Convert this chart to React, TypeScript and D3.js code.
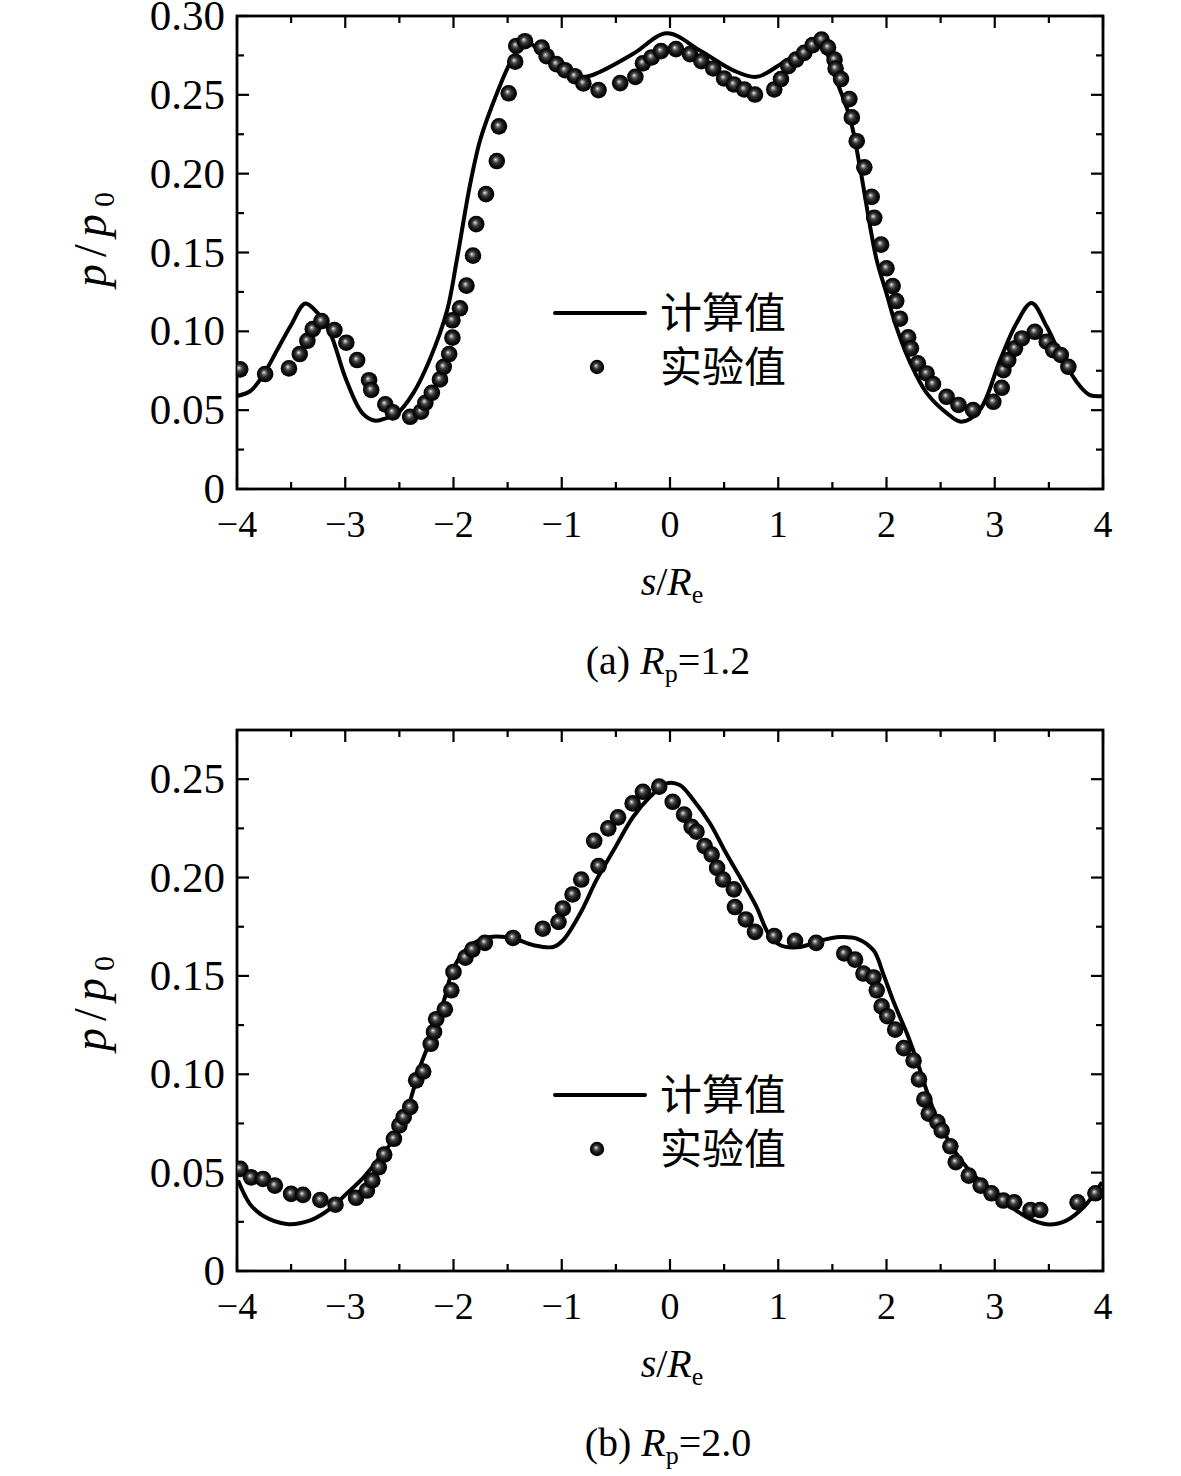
import React from "react";
import * as d3 from "d3";

// x positions s/Re shared by both panels
const xTicks = [-4, -3, -2, -1, 0, 1, 2, 3, 4];
const xTickLabels = ["−4", "−3", "−2", "−1", "0", "1", "2", "3", "4"];
const xMinor = [-3.5, -2.5, -1.5, -0.5, 0.5, 1.5, 2.5, 3.5];

const yTicksA = [0, 0.05, 0.1, 0.15, 0.2, 0.25, 0.3];
const yTickLabelsA = ["0", "0.05", "0.10", "0.15", "0.20", "0.25", "0.30"];
const yMinorA = [0.025, 0.075, 0.125, 0.175, 0.225, 0.275];

const yTicksB = [0, 0.05, 0.1, 0.15, 0.2, 0.25];
const yTickLabelsB = ["0", "0.05", "0.10", "0.15", "0.20", "0.25"];
const yMinorB = [0.025, 0.075, 0.125, 0.175, 0.225, 0.275];

const legendNames = ["计算值", "实验值"];

// (a) Rp = 1.2 : computed curve [s, p/p0]
const calcA: [number, number][] = [
  [-4.0, 0.059], [-3.88, 0.062], [-3.76, 0.072], [-3.63, 0.088], [-3.5, 0.104],
  [-3.37, 0.1177], [-3.26, 0.112], [-3.14, 0.099], [-2.99, 0.069], [-2.84, 0.048],
  [-2.72, 0.0433], [-2.62, 0.045], [-2.52, 0.048], [-2.37, 0.061], [-2.22, 0.082],
  [-2.06, 0.113], [-1.97, 0.145], [-1.85, 0.192], [-1.755, 0.221], [-1.65, 0.242],
  [-1.48, 0.27], [-1.4, 0.279], [-1.32, 0.2836], [-1.2, 0.277], [-1.05, 0.267],
  [-0.8, 0.2614], [-0.647, 0.2646], [-0.34, 0.276], [-0.03, 0.289], [0.28, 0.278],
  [0.58, 0.2657], [0.8, 0.2614], [1.08, 0.272], [1.355, 0.2815], [1.43, 0.279],
  [1.51, 0.264], [1.66, 0.236], [1.755, 0.204], [1.85, 0.166], [1.91, 0.145],
  [2.0, 0.124], [2.09, 0.103], [2.22, 0.08], [2.37, 0.061], [2.56, 0.048],
  [2.69, 0.0427], [2.86, 0.05], [3.05, 0.082], [3.2, 0.105], [3.34, 0.118],
  [3.48, 0.103], [3.63, 0.082], [3.79, 0.065], [3.88, 0.0596], [4.0, 0.059],
];

// (a) experiment points
const expA: [number, number][] = [
  [-3.97, 0.0759], [-3.74, 0.0729], [-3.52, 0.0765], [-3.42, 0.0856], [-3.35, 0.094],
  [-3.3, 0.1014], [-3.22, 0.1065], [-3.1, 0.1008], [-2.99, 0.0928], [-2.89, 0.0818],
  [-2.78, 0.069], [-2.76, 0.0628], [-2.63, 0.0537], [-2.56, 0.0486], [-2.4, 0.0458],
  [-2.3, 0.049], [-2.26, 0.0547], [-2.2, 0.061], [-2.125, 0.0695], [-2.09, 0.0775],
  [-2.04, 0.0856], [-2.01, 0.096], [-2.01, 0.107], [-1.94, 0.1146], [-1.88, 0.129],
  [-1.82, 0.148], [-1.79, 0.168], [-1.7, 0.187], [-1.6, 0.208], [-1.58, 0.23],
  [-1.49, 0.251], [-1.43, 0.271], [-1.42, 0.281], [-1.34, 0.284], [-1.185, 0.28],
  [-1.14, 0.2745], [-1.05, 0.2695], [-0.97, 0.2656], [-0.88, 0.2618], [-0.8, 0.2572],
  [-0.66, 0.253], [-0.46, 0.2574], [-0.32, 0.2614], [-0.25, 0.27], [-0.17, 0.2737],
  [-0.083, 0.2777], [0.055, 0.279], [0.185, 0.2758], [0.29, 0.2713], [0.4, 0.2667],
  [0.5, 0.2604], [0.59, 0.2566], [0.686, 0.2534], [0.785, 0.2502], [0.963, 0.2534],
  [1.025, 0.26], [1.093, 0.2682], [1.164, 0.2724], [1.24, 0.2766], [1.318, 0.2815],
  [1.4, 0.285], [1.46, 0.28], [1.52, 0.2724], [1.53, 0.2667], [1.58, 0.26],
  [1.657, 0.2473], [1.68, 0.2357], [1.725, 0.2206], [1.795, 0.204], [1.863, 0.1853],
  [1.887, 0.172], [1.95, 0.155], [2.0, 0.14], [2.057, 0.1287], [2.09, 0.1192],
  [2.125, 0.108], [2.2, 0.0962], [2.226, 0.0892], [2.29, 0.0797], [2.37, 0.0733],
  [2.43, 0.0666], [2.555, 0.0585], [2.665, 0.0533], [2.8, 0.05], [2.987, 0.0553],
  [3.064, 0.0642], [3.08, 0.0754], [3.125, 0.0818], [3.187, 0.0892], [3.25, 0.0955],
  [3.37, 0.0997], [3.48, 0.0934], [3.54, 0.0881], [3.61, 0.085], [3.68, 0.0775],
];

// (b) Rp = 2.0 : computed curve
const calcB: [number, number][] = [
  [-3.99, 0.046], [-3.88, 0.034], [-3.76, 0.0281], [-3.54, 0.0239], [-3.33, 0.0256],
  [-3.14, 0.0316], [-2.99, 0.0392], [-2.83, 0.0476], [-2.68, 0.0578], [-2.52, 0.0697],
  [-2.4, 0.0867], [-2.31, 0.1036], [-2.19, 0.1206], [-2.08, 0.139], [-2.02, 0.151],
  [-1.94, 0.1596], [-1.82, 0.1664], [-1.66, 0.1698], [-1.45, 0.169], [-1.26, 0.1656],
  [-1.08, 0.1647], [-0.99, 0.168], [-0.83, 0.1817], [-0.68, 0.1987], [-0.52, 0.214],
  [-0.34, 0.2309], [-0.185, 0.241], [-0.03, 0.2479], [0.09, 0.247], [0.216, 0.2394],
  [0.37, 0.2275], [0.52, 0.2122], [0.68, 0.197], [0.8, 0.185], [0.91, 0.1715],
  [1.02, 0.1656], [1.205, 0.1647], [1.39, 0.168], [1.575, 0.1698], [1.725, 0.169],
  [1.88, 0.163], [1.97, 0.151], [2.06, 0.1376], [2.125, 0.129], [2.19, 0.1206],
  [2.28, 0.107], [2.37, 0.0918], [2.46, 0.0782], [2.59, 0.0646], [2.74, 0.0527],
  [2.89, 0.0443], [3.05, 0.0375], [3.2, 0.0307], [3.36, 0.0256], [3.51, 0.0236],
  [3.66, 0.0256], [3.82, 0.0324], [3.94, 0.0409], [3.99, 0.0451],
];

// (b) experiment points
const expB: [number, number][] = [
  [-3.97, 0.0519], [-3.87, 0.0476], [-3.76, 0.0468], [-3.65, 0.0434], [-3.5, 0.0392],
  [-3.39, 0.0387], [-3.23, 0.0361], [-3.09, 0.0337], [-2.9, 0.0372], [-2.8, 0.0409],
  [-2.75, 0.046], [-2.69, 0.0527], [-2.64, 0.0592], [-2.55, 0.0672], [-2.5, 0.074],
  [-2.46, 0.0782], [-2.4, 0.0833], [-2.345, 0.0969], [-2.28, 0.1014], [-2.21, 0.1155],
  [-2.18, 0.1215], [-2.16, 0.128], [-2.08, 0.133], [-2.02, 0.1427], [-2.0, 0.152],
  [-1.89, 0.1593], [-1.825, 0.1634], [-1.71, 0.1668], [-1.45, 0.1693], [-1.175, 0.174],
  [-1.03, 0.1774], [-0.99, 0.1843], [-0.9, 0.1914], [-0.82, 0.199], [-0.66, 0.2058],
  [-0.7, 0.2187], [-0.57, 0.225], [-0.48, 0.2306], [-0.345, 0.2377], [-0.25, 0.2436],
  [-0.1, 0.2462], [0.025, 0.2385], [0.13, 0.232], [0.2, 0.2258], [0.245, 0.2233],
  [0.32, 0.216], [0.385, 0.2117], [0.435, 0.2049], [0.49, 0.199], [0.59, 0.194],
  [0.6, 0.185], [0.7, 0.1787], [0.785, 0.1724], [0.963, 0.1702], [1.155, 0.1678],
  [1.35, 0.1668], [1.61, 0.1614], [1.71, 0.1583], [1.787, 0.1512], [1.88, 0.1492],
  [1.91, 0.1427], [1.955, 0.1345], [2.007, 0.1295], [2.08, 0.1227], [2.16, 0.1133],
  [2.25, 0.107], [2.3, 0.0974], [2.35, 0.0872], [2.39, 0.08], [2.47, 0.0757],
  [2.51, 0.0714], [2.59, 0.0634], [2.64, 0.0553], [2.76, 0.0485], [2.87, 0.0434],
  [2.97, 0.0395], [3.08, 0.0358], [3.18, 0.0349], [3.33, 0.031], [3.42, 0.031],
  [3.765, 0.0349], [3.93, 0.0395],
];

const SERIF = "'Liberation Serif', 'Times New Roman', serif";
const CJK = "'Noto Sans CJK SC', sans-serif";

const LEFT = 237;
const RIGHT = 1103;

interface PanelProps {
  id: string;
  top: number;
  bottom: number;
  yMax: number;
  yTicks: number[];
  yLabels: string[];
  yMinor: number[];
  calc: [number, number][];
  exp: [number, number][];
  tag: string;
  rp: string;
  titleY: number;
}

const Panel = ({ id, top, bottom, yMax, yTicks, yLabels, yMinor, calc, exp, tag, rp, titleY }: PanelProps) => {
  const x = d3.scaleLinear().domain([-4, 4]).range([LEFT, RIGHT]);
  const y = d3.scaleLinear().domain([0, yMax]).range([bottom, top]);
  const line = d3
    .line<[number, number]>()
    .x((d) => x(d[0]))
    .y((d) => y(d[1]))
    .curve(d3.curveCatmullRom.alpha(0.5));

  const major = 12;
  const minor = 7;
  const legLineY = bottom - 176;
  const legDotY = bottom - 122;

  return (
    <g>
      <clipPath id={`clip-${id}`}>
        <rect x={LEFT} y={top} width={RIGHT - LEFT} height={bottom - top} />
      </clipPath>

      {/* ticks, inward on all four sides */}
      <g stroke="#000" strokeWidth={2.2}>
        {xTicks.map((t) => (
          <g key={`xt${t}`}>
            <line x1={x(t)} x2={x(t)} y1={bottom} y2={bottom - major} />
            <line x1={x(t)} x2={x(t)} y1={top} y2={top + major} />
          </g>
        ))}
        {xMinor.map((t) => (
          <g key={`xm${t}`}>
            <line x1={x(t)} x2={x(t)} y1={bottom} y2={bottom - minor} />
            <line x1={x(t)} x2={x(t)} y1={top} y2={top + minor} />
          </g>
        ))}
        {yTicks.map((t) => (
          <g key={`yt${t}`}>
            <line x1={LEFT} x2={LEFT + major} y1={y(t)} y2={y(t)} />
            <line x1={RIGHT} x2={RIGHT - major} y1={y(t)} y2={y(t)} />
          </g>
        ))}
        {yMinor
          .filter((t) => t < yMax)
          .map((t) => (
            <g key={`ym${t}`}>
              <line x1={LEFT} x2={LEFT + minor} y1={y(t)} y2={y(t)} />
              <line x1={RIGHT} x2={RIGHT - minor} y1={y(t)} y2={y(t)} />
            </g>
          ))}
      </g>
      <rect x={LEFT} y={top} width={RIGHT - LEFT} height={bottom - top} fill="none" stroke="#000" strokeWidth={2.8} />

      {/* tick labels */}
      <g fontFamily={SERIF} fill="#000">
        {xTicks.map((t, i) => (
          <text key={`xl${t}`} x={x(t)} y={bottom + 48} fontSize={38} textAnchor="middle">
            {xTickLabels[i]}
          </text>
        ))}
        {yTicks.map((t, i) => (
          <text key={`yl${t}`} x={LEFT - 12} y={y(t) + 14} fontSize={43} textAnchor="end">
            {yLabels[i]}
          </text>
        ))}
      </g>

      {/* curves and points */}
      <g clipPath={`url(#clip-${id})`}>
        <path d={line(calc) ?? ""} fill="none" stroke="#000" strokeWidth={4} strokeLinejoin="round" />
        {exp.map((d, i) => (
          <circle key={i} cx={x(d[0])} cy={y(d[1])} r={8.3} fill="url(#ball)" />
        ))}
      </g>

      {/* legend */}
      <line x1={555} x2={645} y1={legLineY} y2={legLineY} stroke="#000" strokeWidth={4} strokeLinecap="round" />
      <circle cx={597} cy={legDotY} r={7.2} fill="url(#ball)" />
      <text x={660} y={legLineY + 15} fontFamily={CJK} fontSize={42}>
        {legendNames[0]}
      </text>
      <text x={660} y={legDotY + 15} fontFamily={CJK} fontSize={42}>
        {legendNames[1]}
      </text>

      {/* axis titles */}
      <text x={672} y={bottom + 106} fontFamily={SERIF} fontSize={40} textAnchor="middle">
        <tspan fontStyle="italic">s</tspan>
        <tspan>/</tspan>
        <tspan fontStyle="italic">R</tspan>
        <tspan fontSize={26} dy={8}>e</tspan>
      </text>
      <text
        transform={`translate(106, ${titleY}) rotate(-90)`}
        fontFamily={SERIF}
        fontSize={46}
        textAnchor="middle"
        letterSpacing={7}
      >
        <tspan fontStyle="italic">p</tspan>
        <tspan>/</tspan>
        <tspan fontStyle="italic">p</tspan>
        <tspan fontSize={30} dy={8}>0</tspan>
      </text>

      {/* caption */}
      <text x={668} y={bottom + 185} fontFamily={SERIF} fontSize={40} textAnchor="middle">
        <tspan>{tag} </tspan>
        <tspan fontStyle="italic">R</tspan>
        <tspan fontSize={26} dy={8}>p</tspan>
        <tspan dy={-8}>={rp}</tspan>
      </text>
    </g>
  );
};

const App = () => {
  return (
    <div style={{ position: "absolute", left: 0, top: 0 }}>
      <svg width={1181} height={1476} viewBox="0 0 1181 1476" style={{ display: "block", background: "#fff" }}>
        <defs>
          <radialGradient id="ball" cx="50%" cy="50%" r="50%" fx="42%" fy="40%">
            <stop offset="0%" stopColor="#ffffff" />
            <stop offset="12%" stopColor="#a8a8a8" />
            <stop offset="38%" stopColor="#3c3c3c" />
            <stop offset="72%" stopColor="#0e0e0e" />
            <stop offset="100%" stopColor="#000" />
          </radialGradient>
        </defs>
        <rect width={1181} height={1476} fill="#fff" />
        <Panel
          id="a"
          top={16}
          bottom={489}
          yMax={0.3}
          yTicks={yTicksA}
          yLabels={yTickLabelsA}
          yMinor={yMinorA}
          calc={calcA}
          exp={expA}
          tag="(a)"
          rp="1.2"
          titleY={236}
        />
        <Panel
          id="b"
          top={730}
          bottom={1271}
          yMax={0.275}
          yTicks={yTicksB}
          yLabels={yTickLabelsB}
          yMinor={yMinorB}
          calc={calcB}
          exp={expB}
          tag="(b)"
          rp="2.0"
          titleY={1000}
        />
      </svg>
    </div>
  );
};

export default App;
